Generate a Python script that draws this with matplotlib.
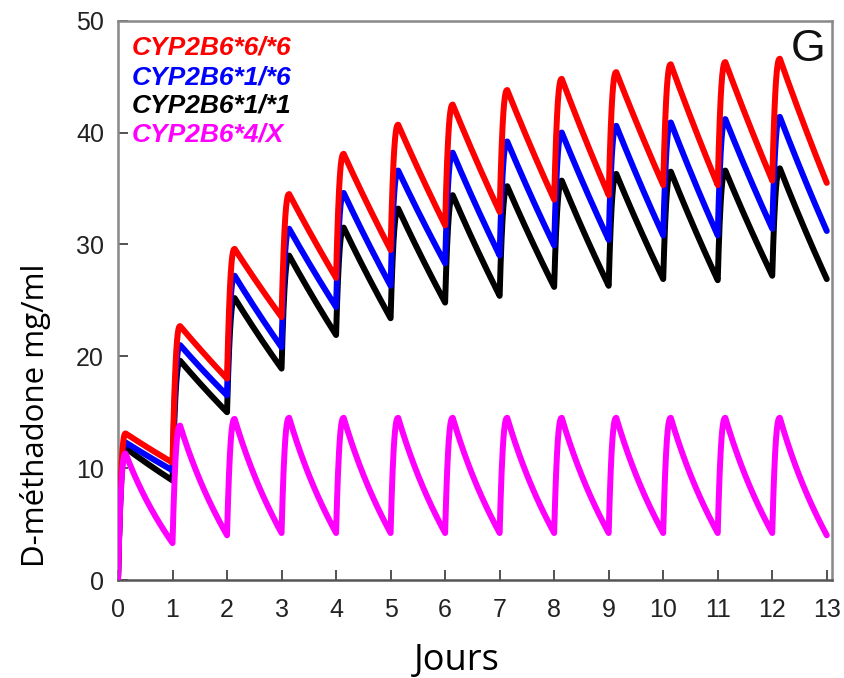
import numpy as np
import matplotlib
matplotlib.use("Agg")
import matplotlib.pyplot as plt

# Daily dosing, day 0 .. 12; peak after each dose and trough just before the next
days = list(range(13))

labels = ["CYP2B6*6/*6", "CYP2B6*1/*6", "CYP2B6*1/*1", "CYP2B6*4/X"]
colors = ["#ff0000", "#0000ff", "#000000", "#ff00ff"]

peaks_66 = [13.1, 22.7, 29.6, 34.5, 38.1, 40.7, 42.5, 43.8, 44.8, 45.4, 46.1, 46.3, 46.6]
troughs_66 = [10.5, 18.0, 23.5, 27.0, 29.5, 31.7, 32.9, 34.0, 34.4, 35.3, 35.3, 35.7, 35.5]

peaks_16 = [12.3, 21.0, 27.2, 31.4, 34.6, 36.6, 38.2, 39.2, 40.0, 40.6, 40.9, 41.2, 41.4]
troughs_16 = [9.8, 16.5, 20.8, 24.4, 26.3, 28.3, 29.0, 29.9, 30.4, 30.8, 30.8, 31.4, 31.2]

peaks_11 = [11.8, 19.6, 25.2, 29.0, 31.5, 33.2, 34.4, 35.2, 35.7, 36.3, 36.5, 36.6, 36.8]
troughs_11 = [8.9, 15.0, 18.9, 21.9, 23.4, 24.8, 25.4, 26.2, 26.3, 26.9, 26.8, 27.2, 26.9]

peaks_4x = [11.3, 13.8, 14.4, 14.5, 14.5, 14.5, 14.5, 14.5, 14.5, 14.5, 14.5, 14.5, 14.5]
troughs_4x = [3.3, 4.0, 4.2, 4.2, 4.2, 4.2, 4.2, 4.2, 4.2, 4.2, 4.2, 4.2, 4.0]

x_ticks = list(range(14))
y_ticks = [0, 10, 20, 30, 40, 50]


def dosing_curve(peaks, troughs, t_peak=0.14, n=40):
    """Rise quickly after each dose to its peak, then decay to the trough."""
    ts, cs = [], []
    start = 0.0
    for d, p, tr in zip(days, peaks, troughs):
        s = np.linspace(0, 1, n)
        ts.append(d + s * t_peak)
        cs.append(start + (p - start) * (1 - (1 - s) ** 2.5))
        u = np.linspace(0, 1, 3 * n)[1:]
        ts.append(d + t_peak + u * (1 - t_peak))
        decay = 0.5 * p * (tr / p) ** u + 0.5 * (p + (tr - p) * u)
        cs.append(decay)
        start = tr
    return np.concatenate(ts), np.concatenate(cs)


series = [
    (peaks_66, troughs_66),
    (peaks_16, troughs_16),
    (peaks_11, troughs_11),
    (peaks_4x, troughs_4x),
]
zorders = [3, 2, 1, 4]

fig = plt.figure(figsize=(8.44, 6.78), dpi=100)
ax = fig.add_axes([0.1398, 0.1445, 0.8456, 0.825])

for (pk, tr), c, z in zip(series, colors, zorders):
    t, conc = dosing_curve(pk, tr)
    ax.plot(t, conc, color=c, lw=4.3, zorder=z, solid_capstyle="round",
            solid_joinstyle="round")

ax.set_xlim(0, 13.09)
ax.set_ylim(0, 50)
ax.set_xticks(x_ticks)
ax.set_yticks(y_ticks)
ax.tick_params(direction="in", length=7, width=1.3, color="#444444",
               labelsize=18, labelcolor="#222222")
ax.tick_params(axis="x", pad=13)
ax.tick_params(axis="y", pad=10)
for lab in ax.get_xticklabels() + ax.get_yticklabels():
    lab.set_family("Liberation Sans")
for side in ["top", "right", "left"]:
    ax.spines[side].set_color("#888888")
    ax.spines[side].set_linewidth(1.8)
ax.spines["bottom"].set_color("#555555")
ax.spines["bottom"].set_linewidth(1.8)

# Genotype labels in the upper-left corner
label_y = [0.952, 0.899, 0.849, 0.797]
for lab, c, yy in zip(labels, colors, label_y):
    ax.text(0.019, yy, lab, transform=ax.transAxes, color=c,
            fontsize=19, fontweight="bold", fontstyle="italic",
            family="Liberation Sans", va="center", ha="left")

ax.text(0.992, 0.948, "G", transform=ax.transAxes, fontsize=32,
        family="Liberation Sans", ha="right", va="center", color="#111111")

ax.set_xlabel("Jours", fontsize=26, family="Open Sans", va="center")
ax.xaxis.set_label_coords(0.475, -0.145)
ax.set_ylabel("D-méthadone mg/ml", fontsize=22.5, family="Open Sans",
              va="center")
ax.yaxis.set_label_coords(-0.116, 0.295)

fig.savefig("out.png", dpi=100)
